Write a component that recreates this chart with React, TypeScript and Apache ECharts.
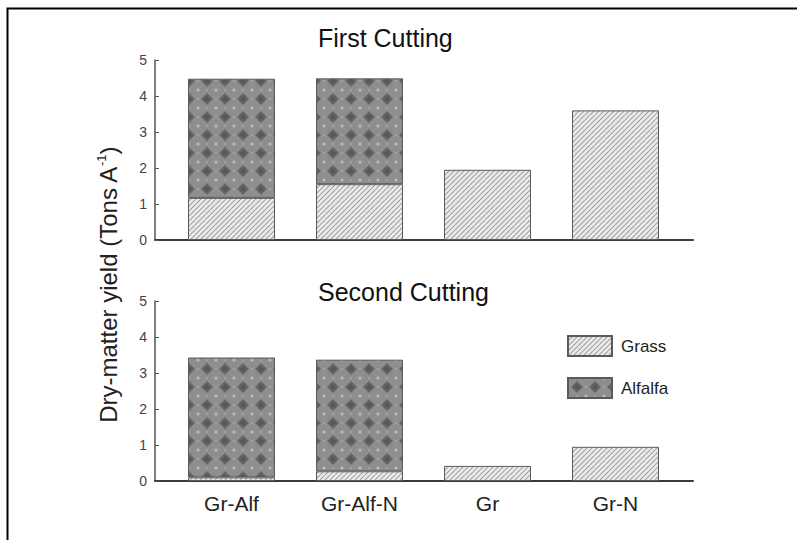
import React, { useEffect, useRef } from "react";
import * as echarts from "echarts";

const categories = ["Gr-Alf", "Gr-Alf-N", "Gr", "Gr-N"];
const firstGrass = [1.17, 1.55, 1.95, 3.6];
const firstAlfalfa: (number | null)[] = [3.31, 2.94, null, null];
const secondGrass = [0.1, 0.27, 0.42, 0.95];
const secondAlfalfa: (number | null)[] = [3.33, 3.1, null, null];
const yTicks = [0, 1, 2, 3, 4, 5];
const titles = ["First Cutting", "Second Cutting"];

const FONT = "'Liberation Sans', Arial, Helvetica, sans-serif";

function grassPattern() {
  const s = 5;
  const c = document.createElement("canvas");
  c.width = s;
  c.height = s;
  const g = c.getContext("2d")!;
  g.fillStyle = "#ebebeb";
  g.fillRect(0, 0, s, s);
  g.strokeStyle = "#a0a0a0";
  g.lineWidth = 1.1;
  for (const o of [-s, 0, s]) {
    g.beginPath();
    g.moveTo(o, s);
    g.lineTo(o + s, 0);
    g.stroke();
  }
  return { image: c.toDataURL(), repeat: "repeat", imageWidth: s, imageHeight: s } as any;
}

function alfalfaPattern() {
  const s = 18;
  const c = document.createElement("canvas");
  c.width = s;
  c.height = s;
  const g = c.getContext("2d")!;
  g.fillStyle = "#8e8e8e";
  g.fillRect(0, 0, s, s);
  g.fillStyle = "#666";
  g.beginPath();
  g.moveTo(9, 3);
  g.lineTo(15, 9);
  g.lineTo(9, 15);
  g.lineTo(3, 9);
  g.closePath();
  g.fill();
  g.fillStyle = "#575757";
  g.beginPath();
  g.arc(9, 9, 2.5, 0, Math.PI * 2);
  g.fill();
  g.fillStyle = "#bdbdbd";
  for (const [x, y] of [[0, 0], [18, 0], [0, 18], [18, 18]]) {
    g.beginPath();
    g.arc(x, y, 1.6, 0, Math.PI * 2);
    g.fill();
  }
  g.fillStyle = "#a8a8a8";
  for (const [x, y] of [[9, 0], [0, 9], [18, 9], [9, 18]]) {
    g.beginPath();
    g.arc(x, y, 1.0, 0, Math.PI * 2);
    g.fill();
  }
  return { image: c.toDataURL(), repeat: "repeat", imageWidth: s, imageHeight: s } as any;
}

export default function App() {
  const ref = useRef<HTMLDivElement>(null);
  useEffect(() => {
    if (!ref.current) return;
    const chart = echarts.init(ref.current, undefined, { renderer: "svg" });
    const grass = grassPattern();
    const alfalfa = alfalfaPattern();
    const nz = (arr: (number | null)[]) => arr.map((v) => (v == null ? "-" : v));

    const tops = [60, 301];
    const H = 180;
    // grids 0,1: bars (category bands); grids 2,3: axis frames (wider)
    const grid = [
      ...tops.map((t) => ({ left: 167.5, width: 512, top: t, height: H })),
      ...tops.map((t) => ({ left: 155, width: 538, top: t, height: H })),
    ];

    const xAxis = [
      ...tops.map((_, k) => ({
        type: "category",
        gridIndex: k,
        data: categories,
        axisLine: { show: false },
        axisTick: { show: false },
        axisLabel: {
          show: k === 1,
          fontSize: 21,
          color: "#222",
          fontFamily: FONT,
          margin: 12,
        },
      })),
      ...tops.map((_, k) => ({
        type: "value",
        gridIndex: k + 2,
        min: 0,
        max: 1,
        splitLine: { show: false },
        axisTick: { show: false },
        axisLabel: { show: false },
        axisLine: { show: true, onZero: false, lineStyle: { color: "#3a3a3a", width: 2 } },
      })),
    ];

    const yAxis = [
      ...tops.map((_, k) => ({
        type: "value",
        gridIndex: k,
        min: yTicks[0],
        max: yTicks[yTicks.length - 1],
        interval: 1,
        show: false,
      })),
      ...tops.map((_, k) => ({
        type: "value",
        gridIndex: k + 2,
        min: yTicks[0],
        max: yTicks[yTicks.length - 1],
        interval: 1,
        splitLine: { show: false },
        axisLine: { show: true, onZero: false, lineStyle: { color: "#555", width: 1.5 } },
        axisTick: { show: true, inside: true, length: 4, lineStyle: { color: "#555" } },
        axisLabel: { fontSize: 14, color: "#444", fontFamily: FONT, margin: 8 },
      })),
    ];

    const border = { borderColor: "#5a5a5a", borderWidth: 1 };
    const bar = (name: string, k: number, stack: string, data: any[], color: any) => ({
      type: "bar",
      name,
      xAxisIndex: k,
      yAxisIndex: k,
      stack,
      barWidth: 87,
      data,
      itemStyle: { ...border, color },
    });

    const option: any = {
      animation: false,
      backgroundColor: "#fff",
      textStyle: { fontFamily: FONT },
      title: titles.map((t, k) => ({
        text: t,
        left: 318,
        top: k === 0 ? 25 : 279,
        padding: 0,
        textStyle: { fontSize: 25, fontWeight: "normal", color: "#111", fontFamily: FONT },
      })),
      legend: {
        data: ["Grass", "Alfalfa"],
        orient: "vertical",
        left: 567,
        top: 335,
        padding: 0,
        itemWidth: 44,
        itemHeight: 20,
        itemGap: 20,
        icon: "rect",
        selectedMode: false,
        textStyle: { fontSize: 17, color: "#222", fontFamily: FONT, padding: [0, 0, 0, 4] },
      },
      grid,
      xAxis,
      yAxis,
      series: [
        bar("Grass", 0, "a", nz(firstGrass), grass),
        bar("Alfalfa", 0, "a", nz(firstAlfalfa), alfalfa),
        bar("Grass", 1, "b", nz(secondGrass), grass),
        bar("Alfalfa", 1, "b", nz(secondAlfalfa), alfalfa),
      ],
      graphic: [
        {
          type: "polyline",
          shape: { points: [[7.5, 540], [7.5, 8.5], [797, 8.5]] },
          style: { stroke: "#000", lineWidth: 2, fill: "none" },
          silent: true,
        },
        {
          type: "text",
          x: 108,
          y: 285,
          rotation: Math.PI / 2,
          style: {
            text: "Dry-matter yield (Tons A{sup|-1})",
            rich: { sup: { fontSize: 13, padding: [0, 0, 13, 0], fontFamily: FONT, fill: "#222" } },
            fontSize: 24,
            fontFamily: FONT,
            fill: "#222",
            align: "center",
            verticalAlign: "middle",
          },
          silent: true,
        },
      ],
    };
    chart.setOption(option);
    return () => chart.dispose();
  }, []);
  return (
    <div
      ref={ref}
      style={{ position: "fixed", left: 0, top: 0, width: 797, height: 540 }}
    />
  );
}
